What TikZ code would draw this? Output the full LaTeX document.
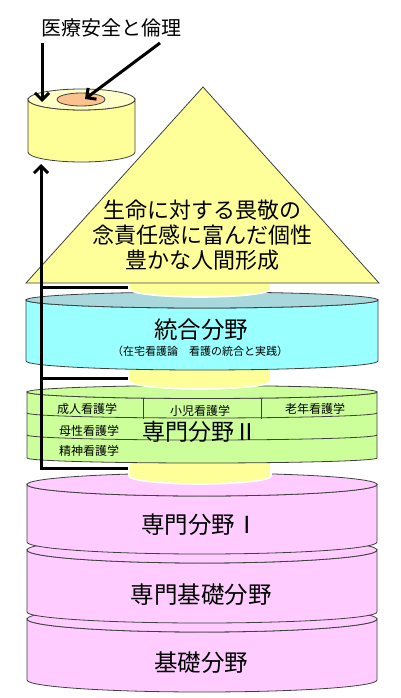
\documentclass[tikz,border=0pt]{standalone}
\usepackage{fontspec}
\setmainfont{Noto Sans CJK JP}
\usetikzlibrary{arrows.meta}
\definecolor{yel}{HTML}{FFFF99}
\definecolor{yellight}{HTML}{FFFFC8}
\definecolor{orng}{HTML}{FAC28F}
\definecolor{cyanside}{HTML}{99FFFF}
\definecolor{cyantop}{HTML}{A8D8DC}
\definecolor{grn}{HTML}{CCFF99}
\definecolor{pnk}{HTML}{FFCCFF}
\newcommand{\mycyl}[8]{%
  \filldraw[outl, fill=#7] (#1-#2,#3) -- (#1-#2,#5) arc[start angle=180,end angle=0,x radius=#2,y radius=#6] -- (#1+#2,#3) arc[start angle=0,end angle=180,x radius=#2,y radius=#4] -- cycle;
  \filldraw[outl, fill=#8] (#1,#3) ellipse[x radius=#2, y radius=#4];}
\newcommand{\colseg}[2]{%
  \filldraw[fill=yel, draw=white, line width=1.6pt] (129,#1) -- (129,#2) arc[start angle=180,end angle=0,x radius=71,y radius=8] -- (271,#1) -- cycle;}
\tikzset{
  outl/.style={draw=black!75, line width=0.8pt},
  big/.style={font=\fontsize{23.5}{26}\selectfont, inner sep=0pt},
  small/.style={font=\fontsize{12}{14}\selectfont, inner sep=0pt},
  thickarrow/.style={line width=3pt, -{Straight Barb[length=7pt,width=14pt]}},
  thickline/.style={line width=3pt},
}
\begin{document}
\begin{tikzpicture}[x=1pt,y=-1pt]
\useasboundingbox (0,0) rectangle (400,698);
% pink disks (bottom first)
\mycyl{202}{175}{619}{13}{680}{12}{pnk}{pnk}
\node[big] (kiso) at (201,663) {基礎分野};
\mycyl{202}{175}{550}{13}{612}{11}{pnk}{pnk}
\node[big] (senkiso) at (201,595) {専門基礎分野};
\mycyl{202}{175}{484.5}{11.5}{542}{12}{pnk}{pnk}
\node[big] (sen1) at (200,525) {専門分野Ⅰ};
% column segment 3
\colseg{455}{476}
% green disk
\mycyl{202}{175}{392}{6.5}{458}{5}{grn}{grn}
\draw[outl] (27,413) arc[start angle=180,end angle=0,x radius=175,y radius=5];
\draw[outl] (27,435) arc[start angle=180,end angle=0,x radius=175,y radius=5];
\draw[outl] (143,398) -- (143,418.5);
\draw[outl] (261,398) -- (261,418.5);
\node[small] (seijin) at (87,409) {成人看護学};
\node[small] (shoni) at (200,411) {小児看護学};
\node[small] (ronen) at (315,409) {老年看護学};
\node[small] (bosei) at (89,431) {母性看護学};
\node[small] (seishin) at (89,451) {精神看護学};
\node[font=\fontsize{23}{26}\selectfont, inner sep=0pt] (sen2) at (200,432) {専門分野Ⅱ};
% column segment 2
\colseg{365}{381}
% cyan disk
\mycyl{202}{176}{300}{8}{361}{9}{cyanside}{cyantop}
\node[big] (togo) at (201,330) {統合分野};
\node[font=\fontsize{11}{13}\selectfont, inner sep=0pt] (togosub) at (200,351) {（在宅看護論　看護の統合と実践）};
% column segment 1
\colseg{283}{289}
% triangle
\filldraw[outl, fill=yel] (203,87) -- (379,283) -- (26,283) -- cycle;
\node[font=\fontsize{22}{25}\selectfont, align=center, inner sep=0pt] (goal) at (202,235) {生命に対する畏敬の\\念責任感に富んだ個性\\豊かな人間形成};
% small cylinder
\mycyl{81.5}{53.5}{99.5}{10.5}{152}{10}{yel}{yellight}
\filldraw[outl, fill=orng] (81,99.5) ellipse[x radius=24, y radius=6.5];
\coordinate (core) at (85,99);
\coordinate (ring) at (42,102);
% title and arrows
\node[font=\fontsize{20}{24}\selectfont, inner sep=0pt] (title) at (111.5,28) {医療安全と倫理};
\coordinate (t1) at (42,43);
\coordinate (t2) at (160,43);
\draw[thickarrow] (t1) -- (ring);
\draw[thickarrow] (t2) -- (core);
% bracket
\coordinate (b1) at (128,287);
\coordinate (b2) at (128,378);
\coordinate (b3) at (128,468);
\coordinate (c1) at (41,287);
\coordinate (c2) at (41,378);
\coordinate (c3) at (41,468);
\coordinate (cyltop) at (41,164);
\draw[thickline] (b1) -- (c1);
\draw[thickline] (b2) -- (c2);
\draw[thickarrow] (b3) -- (c3) -- (cyltop);
\end{tikzpicture}
\end{document}
